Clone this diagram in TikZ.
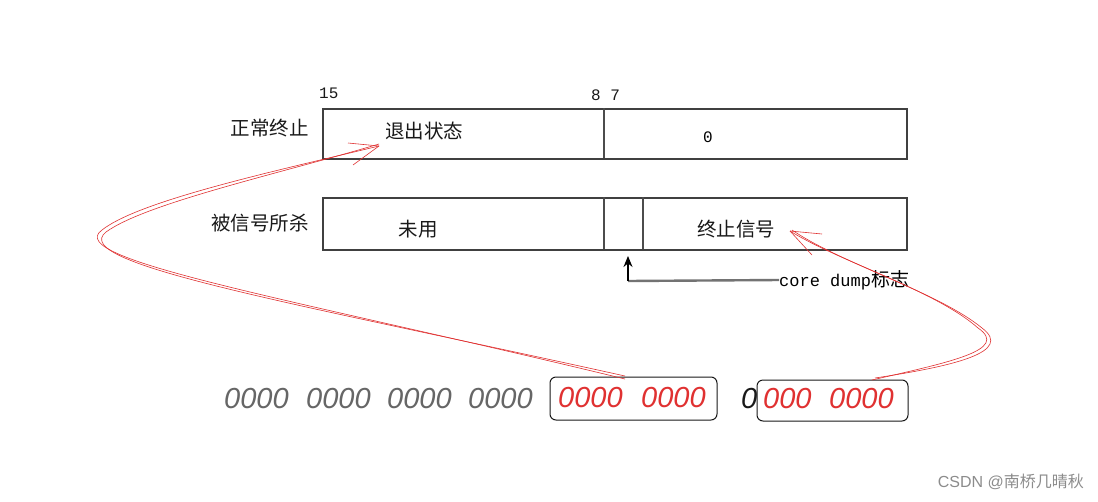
\documentclass[tikz,border=0pt]{standalone}
\usepackage{fontspec}
\usetikzlibrary{arrows.meta}
\setmainfont{Liberation Sans}
\newfontfamily\cjk{Noto Sans CJK SC}
\newfontfamily\monof{Liberation Mono}
\newfontfamily\digf{Liberation Sans}
\definecolor{sketchred}{RGB}{224,49,49}
\begin{document}
\begin{tikzpicture}[x=1pt,y=-1pt,
  lbl/.style={font=\cjk\fontsize{19.5}{21}\selectfont, inner sep=0pt, text=black!90},
  bitno/.style={font=\monof\fontsize{16}{18}\selectfont, inner sep=0pt, text=black!90},
  field/.style={draw=black!75, line width=1.6pt},
  divider/.style={draw=black!70, line width=1.6pt},
  zeros/.style={font=\digf\itshape\fontsize{29}{30}\selectfont, inner sep=0pt},
  redbox/.style={draw=black!90, line width=1pt, rounded corners=6pt},
  redline/.style={draw=sketchred, line width=0.6pt},
]
\useasboundingbox (0,0) rectangle (1098,501);
\fill[white] (0,0) rectangle (1098,501);

% box 1: normal termination
\node[field, minimum width=584pt, minimum height=50pt, inner sep=0pt, anchor=north west] (b1) at (322,108) {};
\draw[divider] (604,108) -- (604,158);
\node[bitno, anchor=south west] (n15) at (319,99) {15};
\node[bitno, anchor=south west] (n87) at (591,101) {8 7};
\node[lbl, anchor=east] (l1) at (309,128) {正常终止};
\node[lbl] (exit) at (424,131) {退出状态};
\node[font=\monof\fontsize{16}{18}\selectfont, inner sep=0pt] (zero) at (708,137) {0};

% box 2: killed by signal
\node[field, minimum width=584pt, minimum height=52pt, inner sep=0pt, anchor=north west] (b2) at (322,197) {};
\draw[divider] (604,197) -- (604,249);
\draw[divider] (643,197) -- (643,249);
\node[lbl, anchor=east] (l2) at (309,223) {被信号所杀};
\node[lbl] (unused) at (418,229) {未用};
\node[lbl] (sig) at (736,229) {终止信号};

% core dump flag
\coordinate (cdA) at (628,256);
\coordinate (cdB) at (628,281);
\node[anchor=west, inner sep=0pt] (cd) at (779,280) {\monof\fontsize{17}{18}\selectfont core dump\cjk\fontsize{19}{20}\selectfont 标志};
\draw[black!55, line width=2.4pt] (cd.west) -- (cdB);
\draw[black, line width=1.3pt, -{Stealth[length=11pt,width=9pt]}] (cdB) -- (cdA);

% bottom bits
\node[zeros, text=black!60, anchor=west] (g1) at (224,399) {0000};
\node[zeros, text=black!60, anchor=west] (g2) at (306,399) {0000};
\node[zeros, text=black!60, anchor=west] (g3) at (387,399) {0000};
\node[zeros, text=black!60, anchor=west] (g4) at (468,399) {0000};
\node[zeros, text=sketchred, anchor=west] (r1) at (558,398) {0000};
\node[zeros, text=sketchred, anchor=west] (r1b) at (641,398) {0000};
\node[redbox, minimum width=167pt, minimum height=43pt] (rb1) at (633.5,398.5) {};
\node[zeros, text=black!90, anchor=west] (c0) at (741,399) {0};
\node[zeros, text=sketchred, anchor=west] (r2) at (763,399) {000};
\node[zeros, text=sketchred, anchor=west] (r2b) at (829,399) {0000};
\node[redbox, minimum width=151pt, minimum height=41pt] (rb2) at (832.5,400.5) {};

% red curves
\coordinate (s1) at (625,379);
\coordinate (t1) at (379,146);
\draw[redline] (s1) .. controls (300,300) and (60,260) .. (102,230) .. controls (140,200) and (280,170) .. (t1);
\draw[redline] ([yshift=3pt]s1) .. controls (300,304) and (66,264) .. (106,232) .. controls (146,203) and (282,173) .. ([yshift=2pt]t1);
\draw[redline] (t1) -- (348,143);
\draw[redline] (t1) -- (353,165);

\coordinate (s2) at (872,380);
\coordinate (t2) at (790,231);
\draw[redline] (s2) .. controls (950,362) and (1010,350) .. (978,328) .. controls (935,290) and (840,262) .. (t2);
\draw[redline] ([xshift=3pt,yshift=2pt]s2) .. controls (954,366) and (1014,352) .. (982,328) .. controls (938,292) and (842,264) .. ([xshift=2pt,yshift=1pt]t2);
\draw[redline] (t2) -- (822,234);
\draw[redline] (t2) -- (812,255);

% watermark
\node[font=\fontsize{16}{18}\selectfont, text=black!45, anchor=east, inner sep=0pt] (wm) at (1084,482) {CSDN @{\cjk 南桥几晴秋}};
\end{tikzpicture}
\end{document}
